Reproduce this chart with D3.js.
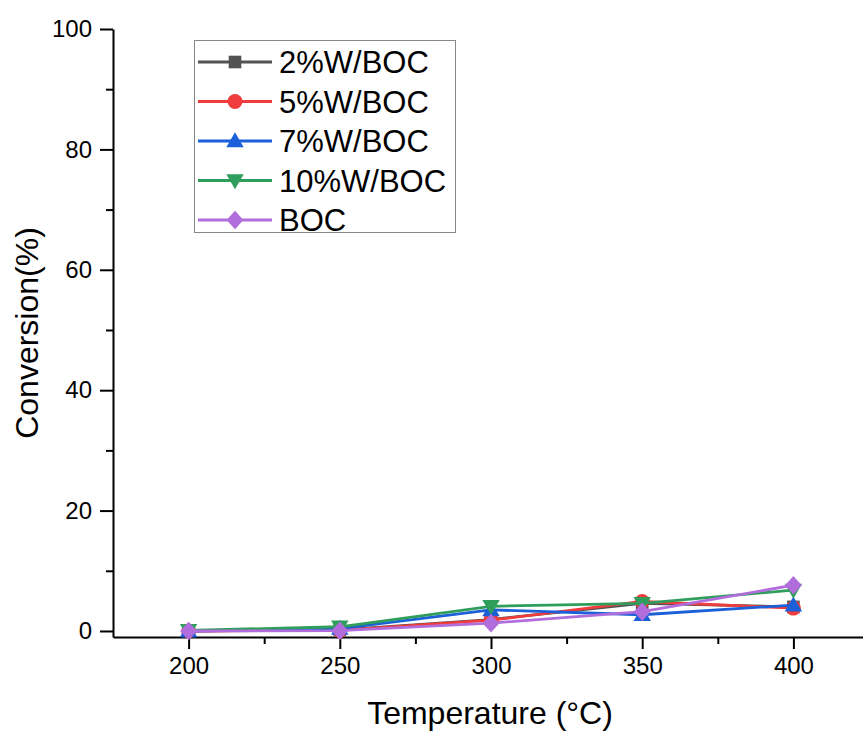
<!DOCTYPE html>
<html>
<head>
<meta charset="utf-8">
<script src="https://cdn.jsdelivr.net/npm/d3@7/dist/d3.min.js"></script>
<style>
  body { margin: 0; background: #fff; }
  svg { display: block; font-family: "Liberation Sans", Arial, sans-serif; }
</style>
</head>
<body>
<svg id="chart" width="863" height="733"></svg>
<script>
// Temperatures (°C) and conversion (%) per catalyst
const temperatures = [200, 250, 300, 350, 400];
const seriesNames = ["2%W/BOC", "5%W/BOC", "7%W/BOC", "10%W/BOC", "BOC"];
const w2 = [0.0, 0.2, 1.9, 4.6, 4.0];
const w5 = [0.0, 0.1, 1.8, 4.9, 3.8];
const w7 = [0.0, 0.4, 3.5, 2.7, 4.3];
const w10 = [0.1, 0.7, 4.1, 4.6, 6.8];
const boc = [0.0, 0.05, 1.3, 3.2, 7.6];
const seriesColors = ["#525252", "#f03c3c", "#1b60d8", "#2f9e5c", "#b26ddc"];
const seriesSymbols = ["square", "circle", "triangle", "triangleDown", "diamond"];
const xTicks = [200, 250, 300, 350, 400];
const yTicks = [0, 20, 40, 60, 80, 100];

const seriesValues = [w2, w5, w7, w10, boc];
const series = seriesNames.map((name, i) => ({
  name, color: seriesColors[i], symbol: seriesSymbols[i],
  points: temperatures.map((t, j) => ({ t, v: seriesValues[i][j] }))
}));

const svg = d3.select("#chart");
const x = d3.scaleLinear().domain([175, 425]).range([113, 869]);
const y = d3.scaleLinear().domain([-1, 100]).range([637, 29]);

// marker shapes
function marker(g, type, color, size) {
  const s = size;
  if (type === "square") {
    g.append("rect").attr("x", -s * 0.42).attr("y", -s * 0.42)
      .attr("width", s * 0.84).attr("height", s * 0.84).attr("fill", color);
  } else if (type === "circle") {
    g.append("circle").attr("r", s * 0.5).attr("fill", color);
  } else if (type === "triangle") {
    g.append("path").attr("d", `M0,${-s * 0.58}L${s * 0.58},${s * 0.42}L${-s * 0.58},${s * 0.42}Z`).attr("fill", color);
  } else if (type === "triangleDown") {
    g.append("path").attr("d", `M0,${s * 0.58}L${s * 0.58},${-s * 0.42}L${-s * 0.58},${-s * 0.42}Z`).attr("fill", color);
  } else if (type === "diamond") {
    g.append("path").attr("d", `M0,${-s * 0.62}L${s * 0.56},0L0,${s * 0.62}L${-s * 0.56},0Z`).attr("fill", color);
  }
}

// axes: major ticks with labels, minor ticks without
const xAxisG = svg.append("g").attr("transform", `translate(0,${y(-1)})`);
xAxisG.call(d3.axisBottom(x).tickValues(xTicks).tickSize(12).tickPadding(8).tickSizeOuter(0));
svg.append("g").attr("transform", `translate(0,${y(-1)})`)
  .call(d3.axisBottom(x).tickValues([225, 275, 325, 375, 425]).tickSize(7).tickFormat("").tickSizeOuter(0))
  .select(".domain").remove();

const yAxisG = svg.append("g").attr("transform", `translate(${x(175)},0)`);
yAxisG.call(d3.axisLeft(y).tickValues(yTicks).tickSize(13).tickPadding(8).tickSizeOuter(0));
svg.append("g").attr("transform", `translate(${x(175)},0)`)
  .call(d3.axisLeft(y).tickValues([10, 30, 50, 70, 90]).tickSize(7).tickFormat(""))
  .select(".domain").remove();

svg.selectAll(".domain").attr("stroke", "#000").attr("stroke-width", 2);
svg.selectAll(".tick line").attr("stroke", "#000").attr("stroke-width", 2);
svg.selectAll(".tick text").attr("font-size", 24).attr("fill", "#000")
  .attr("font-family", "Liberation Sans, Arial, sans-serif");

// axis titles
svg.append("text").attr("x", 490).attr("y", 724).attr("text-anchor", "middle")
  .attr("font-size", 32).text("Temperature (°C)");
svg.append("text").attr("transform", "translate(38,333) rotate(-90)").attr("text-anchor", "middle")
  .attr("font-size", 32).text("Conversion(%)");

// series
const line = d3.line().x((d) => x(d.t)).y((d) => y(d.v));
series.forEach((s) => {
  const g = svg.append("g");
  g.append("path").datum(s.points).attr("d", line).attr("fill", "none")
    .attr("stroke", s.color).attr("stroke-width", 2.8);
  s.points.forEach((p) => {
    const m = g.append("g").attr("transform", `translate(${x(p.t)},${y(p.v)})`);
    marker(m, s.symbol, s.color, 15);
  });
});

// legend
const legend = svg.append("g");
legend.append("rect").attr("x", 194.5).attr("y", 40.5).attr("width", 261).attr("height", 192)
  .attr("fill", "#fff").attr("stroke", "#888").attr("stroke-width", 1);
series.forEach((s, i) => {
  const cy = 62 + i * 39.5;
  legend.append("line").attr("x1", 198).attr("x2", 272).attr("y1", cy).attr("y2", cy)
    .attr("stroke", s.color).attr("stroke-width", 2.8);
  const m = legend.append("g").attr("transform", `translate(235,${cy})`);
  marker(m, s.symbol, s.color, 15);
  legend.append("text").attr("x", 279).attr("y", cy).attr("dy", "0.36em")
    .attr("font-size", 31).attr("fill", "#000").text(s.name);
});
</script>
</body>
</html>
